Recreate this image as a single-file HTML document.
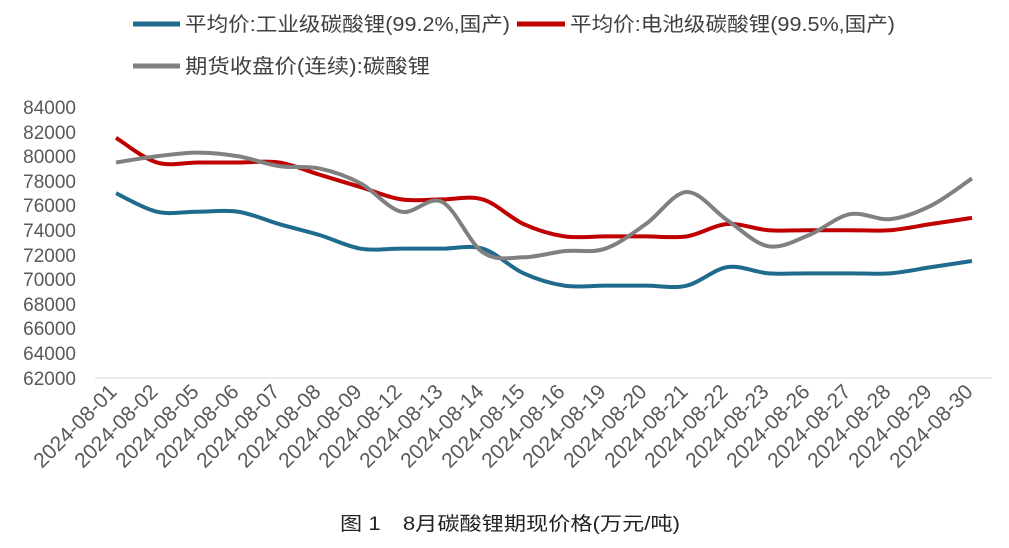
<!DOCTYPE html>
<html><head><meta charset="utf-8"><style>
body{margin:0;background:#fff;}
svg text{font-family:"Liberation Sans","Noto Sans CJK SC",sans-serif;}
</style></head><body>
<svg id="s" width="1009" height="543" viewBox="0 0 1009 543" xmlns="http://www.w3.org/2000/svg">
<rect width="1009" height="543" fill="#fff"/>
<line x1="133" y1="24" x2="180" y2="24" stroke="#1f6b8e" stroke-width="5"/>
<text x="185" y="31" font-size="20" fill="#404040" textLength="325" lengthAdjust="spacingAndGlyphs">平均价:工业级碳酸锂(99.2%,国产)</text>
<line x1="517" y1="24" x2="565" y2="24" stroke="#c00000" stroke-width="5"/>
<text x="570" y="31" font-size="20" fill="#404040" textLength="325" lengthAdjust="spacingAndGlyphs">平均价:电池级碳酸锂(99.5%,国产)</text>
<line x1="133" y1="66" x2="180" y2="66" stroke="#808080" stroke-width="5"/>
<text x="185" y="73" font-size="20" fill="#404040" textLength="245" lengthAdjust="spacingAndGlyphs">期货收盘价(连续):碳酸锂</text>
<g font-size="19" fill="#595959" text-anchor="end">
<text x="76" y="114">84000</text><text x="76" y="139">82000</text><text x="76" y="163">80000</text><text x="76" y="188">78000</text><text x="76" y="212">76000</text><text x="76" y="237">74000</text><text x="76" y="262">72000</text><text x="76" y="286">70000</text><text x="76" y="311">68000</text><text x="76" y="335">66000</text><text x="76" y="360">64000</text><text x="76" y="385">62000</text>
</g>
<line x1="95" y1="378" x2="992" y2="378" stroke="#d9d9d9" stroke-width="1"/>
<g id="xl" font-size="21" fill="#595959" text-anchor="end">
<text transform="translate(118,393) rotate(-45)">2024-08-01</text>
<text transform="translate(159,393) rotate(-45)">2024-08-02</text>
<text transform="translate(200,393) rotate(-45)">2024-08-05</text>
<text transform="translate(240,393) rotate(-45)">2024-08-06</text>
<text transform="translate(281,393) rotate(-45)">2024-08-07</text>
<text transform="translate(322,393) rotate(-45)">2024-08-08</text>
<text transform="translate(363,393) rotate(-45)">2024-08-09</text>
<text transform="translate(403,393) rotate(-45)">2024-08-12</text>
<text transform="translate(444,393) rotate(-45)">2024-08-13</text>
<text transform="translate(485,393) rotate(-45)">2024-08-14</text>
<text transform="translate(526,393) rotate(-45)">2024-08-15</text>
<text transform="translate(566,393) rotate(-45)">2024-08-16</text>
<text transform="translate(607,393) rotate(-45)">2024-08-19</text>
<text transform="translate(648,393) rotate(-45)">2024-08-20</text>
<text transform="translate(689,393) rotate(-45)">2024-08-21</text>
<text transform="translate(729,393) rotate(-45)">2024-08-22</text>
<text transform="translate(770,393) rotate(-45)">2024-08-23</text>
<text transform="translate(811,393) rotate(-45)">2024-08-26</text>
<text transform="translate(852,393) rotate(-45)">2024-08-27</text>
<text transform="translate(892,393) rotate(-45)">2024-08-28</text>
<text transform="translate(933,393) rotate(-45)">2024-08-29</text>
<text transform="translate(974,393) rotate(-45)">2024-08-30</text>
</g>
<text x="340" y="530" font-size="19" fill="#222" textLength="340" lengthAdjust="spacingAndGlyphs">图 1　8月碳酸锂期现价格(万元/吨)</text>
<g id="lines"></g>
</svg>
<script>
var B=[77000,75500,75500,75500,74500,73600,72500,72500,72500,72500,70500,69500,69500,69500,69500,71000,70500,70500,70500,70500,71000,71500];
var R=[81500,79500,79500,79500,79500,78500,77500,76500,76500,76500,74500,73500,73500,73500,73500,74500,74000,74000,74000,74000,74500,75000];
var G=[79500,80000,80300,80000,79200,79000,77800,75500,76300,72200,71800,72300,72500,74500,77100,74800,72700,73600,75300,74900,76000,78200];
function pts(a){return a.map(function(v,i){return [116+i*40.76,107+(84000-v)*0.01232];});}
function path(p){var d="M"+p[0][0]+","+p[0][1];for(var i=0;i<p.length-1;i++){var p0=p[i-1]||p[i],p1=p[i],p2=p[i+1],p3=p[i+2]||p2;var t=1/6;d+=" C"+(p1[0]+(p2[0]-p0[0])*t)+","+(p1[1]+(p2[1]-p0[1])*t)+" "+(p2[0]-(p3[0]-p1[0])*t)+","+(p2[1]-(p3[1]-p1[1])*t)+" "+p2[0]+","+p2[1];}return d;}
var g=document.getElementById("lines"),ns="http://www.w3.org/2000/svg";
[[B,"#1f6b8e"],[R,"#c00000"],[G,"#808080"]].forEach(function(s){var e=document.createElementNS(ns,"path");e.setAttribute("d",path(pts(s[0])));e.setAttribute("fill","none");e.setAttribute("stroke",s[1]);e.setAttribute("stroke-width","4");g.appendChild(e);});
</script>
</body></html>
